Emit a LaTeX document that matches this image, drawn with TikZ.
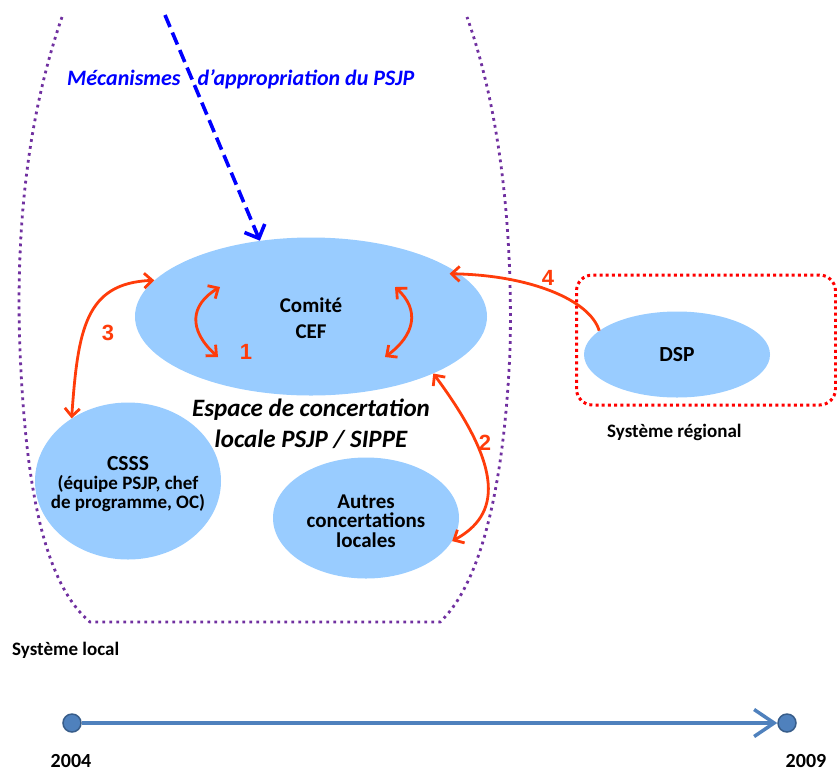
\documentclass[tikz,border=0pt]{standalone}
\usepackage{fontspec}
\setmainfont{Carlito}
\newfontfamily\numfont{Liberation Sans}
\usetikzlibrary{shapes.geometric,arrows.meta}
\definecolor{ellblue}{RGB}{153,204,255}
\definecolor{redarr}{RGB}{255,60,10}
\definecolor{purp}{RGB}{112,48,160}
\definecolor{tlblue}{RGB}{79,129,189}
\definecolor{tldark}{RGB}{56,93,138}
\begin{document}
\begin{tikzpicture}[x=1pt,y=-1pt,
  blob/.style={ellipse, fill=ellblue, inner sep=0pt, text=black},
  blobtext/.style={align=center, inner sep=0pt, text=black},
  rarrow/.style={draw=redarr, line width=2.8pt, {Straight Barb[length=8pt,width=15pt]}-{Straight Barb[length=8pt,width=15pt]}},
  rarrowone/.style={draw=redarr, line width=2.8pt, -{Straight Barb[length=8pt,width=15pt]}},
  numlabel/.style={text=redarr, font=\numfont\bfseries\fontsize{22}{22}\selectfont},
  syslabel/.style={font=\bfseries\fontsize{19}{19}\selectfont, anchor=base west, inner sep=0pt},
  yearlabel/.style={font=\bfseries\fontsize{20}{20}\selectfont, anchor=base, inner sep=0pt},
  tlcircle/.style={circle, fill=tlblue, draw=tldark, line width=1.5pt, minimum size=18pt, inner sep=0pt}
]
\useasboundingbox (0,0) rectangle (837,772);

% local system outline
\draw[purp, line width=2.8pt, dash pattern=on 2.8pt off 4.2pt]
  (62,17) .. controls (30,110) and (15,220) .. (20,350)
  .. controls (25,470) and (40,580) .. (90,622) -- (440,622)
  .. controls (485,580) and (505,470) .. (510,350)
  .. controls (513,230) and (500,110) .. (467,17);

% regional system box
\node[draw=red, line width=3pt, dash pattern=on 3pt off 3.2pt, rounded corners=16pt,
      minimum width=259pt, minimum height=130pt, inner sep=0pt] (regbox) at (706,340) {};

% ellipses
\node[blob, minimum width=352pt, minimum height=158pt] (cef) at (311,316.5) {};
\node[blobtext, font=\bfseries\fontsize{21}{26}\selectfont] (ceft) at (311,318.5) {Comité\\CEF};
\node[blob, minimum width=186pt, minimum height=157pt] (csss) at (128,481) {};
\node[blobtext, font=\bfseries\fontsize{19}{19}\selectfont] (cssst) at (128,484)
      {{\fontsize{21.5}{20}\selectfont CSSS}\\(équipe PSJP, chef\\de programme, OC)};
\node[blob, minimum width=186pt, minimum height=121pt] (aut) at (366,518) {};
\node[blobtext, font=\bfseries\fontsize{21}{19.5}\selectfont] (autt) at (366,521)
      {Autres\\concertations\\locales};
\node[blob, minimum width=186pt, minimum height=86pt] (dsp) at (677,354.5) {};
\node[blobtext, font=\bfseries\fontsize{21.5}{21.5}\selectfont] (dspt) at (677,355) {DSP};

% blue dashed arrow
\coordinate (bsrc) at (165,15);
\draw[blue, line width=3.6pt, dash pattern=on 13pt off 6pt,
      -{Straight Barb[length=11pt,width=22pt]}] (bsrc) -- (cef.124);
\node[anchor=base west, inner sep=0pt, text=blue,
      font=\bfseries\itshape\fontsize{22}{22}\selectfont] (meca) at (67,85)
      {Mécanismes\hspace{12pt} d’appropriation du PSJP};

% arrows 1 (inside comité)
\coordinate (l1a) at (218,357);
\coordinate (l1b) at (220,287);
\coordinate (r1a) at (385,357);
\coordinate (r1b) at (395,287);
\draw[rarrow] (l1a) .. controls (188,330) and (190,305) .. (l1b);
\draw[rarrow] (r1a) .. controls (415,335) and (420,310) .. (r1b);
\node[numlabel] (n1) at (246,351.5) {1};

% arrow 3
\draw[rarrow] (csss.132) .. controls (78,330) and (85,283) .. (cef.167);
\node[numlabel] (n3) at (108,333) {3};

% arrow 2
\draw[rarrow] (cef.-25) .. controls (505,470) and (500,515) .. (aut.-15);
\node[numlabel] (n2) at (485,443) {2};

% arrow 4
\draw[rarrowone, shorten >=-10pt] (dsp.163) .. controls (590,300) and (530,275) .. (cef.16);
\node[numlabel] (n4) at (548,278) {4};

% central caption
\node[align=center, inner sep=0pt, font=\bfseries\itshape\fontsize{25}{31}\selectfont] (esp) at (311,424)
  {Espace de concertation\\locale PSJP / SIPPE};

% system labels
\node[syslabel] (sysloc) at (12,655) {Système local};
\node[syslabel] (sysreg) at (607,437) {Système régional};

% timeline
\node[tlcircle] (t0) at (72,723) {};
\node[tlcircle] (t1) at (787,723) {};
\draw[tlblue, line width=3.5pt, -{Straight Barb[length=20pt,width=27pt]}] (t0) -- (t1);
\node[yearlabel] (y0) at (71,767) {2004};
\node[yearlabel] (y1) at (806,767) {2009};
\end{tikzpicture}
\end{document}
